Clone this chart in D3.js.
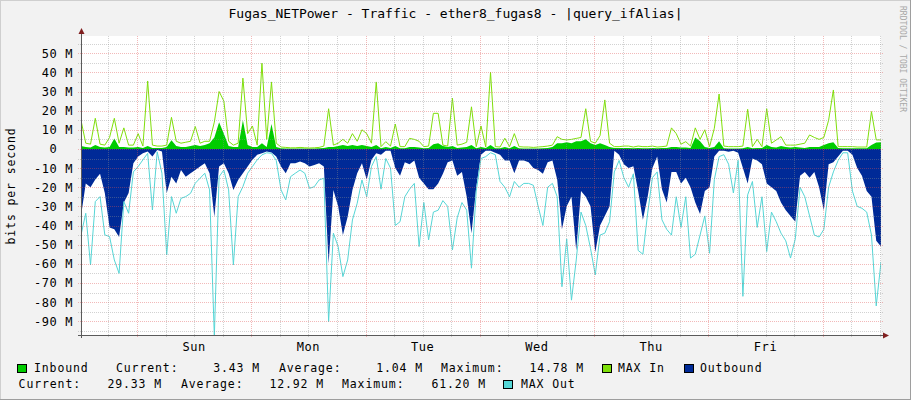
<!DOCTYPE html>
<html><head><meta charset="utf-8">
<script src="https://cdn.jsdelivr.net/npm/d3@7"></script>
<style>
body{margin:0;background:#f2f2f2;}
svg text{font-family:"DejaVu Sans Mono",monospace;fill:#000;}
.t{font-size:13px;}
.tk{font-size:12px;letter-spacing:0.58px;}
.lg{font-size:11.5px;letter-spacing:0.88px;}
.wm{font-size:8px;fill:#a8a8a8;}
</style></head><body>
<svg id="c" width="911" height="400"></svg>
<script>
// ---- data (hourly samples, values in Mbit/s) ----
const title = "Fugas_NETPower - Traffic - ether8_fugas8 - |query_ifAlias|";
const dayLabels = ["Sun","Mon","Tue","Wed","Thu","Fri"];
const yTickValues = [50,40,30,20,10,0,-10,-20,-30,-40,-50,-60,-70,-80,-90];
const seriesNames = ["Inbound","MAX In","Outbound","MAX Out"];
const seriesColors = ["#00cc00","#7fe00a","#002a97","#55d6d6"];

const inbound = [1.5,1,0.8,2,1,0.8,1,5.5,1,1,0.8,0.8,1,0.5,1.5,0.5,0.5,0.5,1,4.5,1.5,1,1,1.5,2,1.5,2,3,6,14,8,1.5,1,1,15,2,1,1,3,1,13,1,0.3,0.2,0.2,0.2,0.2,0.2,0.2,0.2,0.3,0.5,1,1,1.5,2,1.5,2,1.5,2,1.5,1,2,
0.3,1,0.5,1.5,0.3,0.3,1,1,0.8,0.3,0.5,2.5,3,1.5,1,1.5,0.5,0.8,1,2,0.3,1,0.5,2,0.3,0.3,1,0.3,1.5,0.3,0.2,0.2,0.2,0.2,0.3,0.5,1,3,3,3.5,3,4,4,5,3,2,3,2,1,0.5,0.5,0.5,0.5,0.3,0.5,0.3,0.3,0.5,0.3,0.5,0.5,1,1,
0.8,0.8,0.5,6,4,1,0.5,1,4,0.3,0.2,0.2,0.2,0.3,1,0.3,0.5,0.5,2,1,0.8,1.5,1,0.8,1,0.8,0.5,1,1,1,2,3,3.5,0.5,0.3,0.3,0.3,0.3,0.3,0.3,2,3.4,3.43];

const maxIn = [15,3,2.5,16,2.5,2,6,16,3,11,2,2,8,1.5,35.5,2,1.5,1.5,2,16.5,4,3,3.5,4,11.7,3,4,4,14,30,25,4,2,3,37,8,12,2,44.8,5,35,3,1,0.8,0.6,0.6,0.8,0.6,0.5,0.6,0.8,1.5,21,2,3,5,3,8,4,10,8,3,35,
1.2,3.8,1.5,13,1.2,1.2,5.5,5,4,1.2,1.5,18.6,18.6,2,1.5,26.5,2,2.5,3.5,22,1.2,12,1,40,1.2,1,5.6,1.2,8,1.2,1,1,0.8,1,1.2,1.5,2,6.4,5,4.7,5,5.5,6,21,4,3,7,25.6,3,1.2,1.2,1.5,1.5,1,1.5,1.2,1.2,1.5,1,1.2,1.5,11,8,
2.5,3.8,1.5,11,5,10,1.2,10.8,28.7,1.5,1.2,1.2,1.2,1.5,20.7,1.2,5,1.2,21,3,4.7,6.4,2,2,2,2.5,3,7.3,6,5,6,15,30.8,1.2,1.2,1.2,1.2,1,1,1,19.5,4.7,4.7];

const outbound = [-35,-18,-20,-16,-13,-23,-41,-42,-46,-28,-23,-7.5,-4,-2.3,-1.4,-4,-0.5,-1.4,-23,-14.5,-18,-11,-14.5,-12.7,-11,-9.2,-7.5,-12.7,-35.4,-9.2,-7.5,-12.7,-21.4,-16.2,-12.7,-9.2,-5.7,-3.1,-2.3,-1.4,-1.9,-4,-9.2,-12.7,-7.5,-7.5,-6.6,-7.5,-9.2,-8.4,-7.5,-9.2,-60,-21.4,-30,-45,-35.4,-21.4,-12.7,-7.5,-16,-5.7,-2.3,
-3,-1,-1,-10,-14,-7,-8,-6,-15,-18,-21,-21,-18,-13,-7,-6,-14,-12,-25,-44,-20,-3,-1,-1,-2,-3,-6,-6,-12.7,-6,-6,-7,-10,-11,-13,-7,-6,-16,-42,-30,-25,-53,-22,-25,-30,-54,-40,-35,-30,-1,-3,-8,-10,-9,-22,-37,-25,-10,-4,-21,-28,-12,-12,
-18,-15,-20,-28,-34,-22,-20,-4,-1,-1,-1.5,-1,-2,-10,-18,-5,-6,-8,-18,-20,-22,-28,-32,-35,-38,-14,-12,-15,-12,-20,-32,-8,-7,-4,-1,-1,-3,-10,-14,-22,-25,-48,-51];

const maxOut = [-45,-33.6,-60.6,-27.5,-24.9,-44.9,-45.8,-58,-65,-27.5,-33.6,-12,-9.2,-5.7,-2.3,-31.9,-1.5,-12.7,-55.4,-24.9,-33.6,-25.8,-24.9,-23.2,-17.9,-15.3,-12.7,-21.4,-98,-14.5,-11,-21.4,-60.6,-24.9,-19.7,-12.7,-9.2,-5.7,-3.1,-2,-2.3,-6,-21.4,-26.6,-14.5,-12.7,-11,-12.7,-20.6,-19.7,-16.2,-15.3,-90.2,-44,-51,-66.7,-58,-37.1,-28.4,-16.2,-25,-9.2,-4,
-21,-5,-10,-40,-38,-25,-21,-18,-51,-28,-47.5,-33,-32,-27,-30,-52.8,-36,-28,-32,-62.3,-22,-5,-4,-2,-3,-17,-20,-25,-17,-20,-18,-18,-19,-30,-40,-20,-18,-25,-72,-47,-79,-58,-33,-40,-52,-65.8,-45,-44,-38,-12,-6,-15,-20,-13,-53,-55,-33.6,-15,-12,-37,-42,-45,-25,
-41,-25,-57,-55,-45,-35,-54.5,-16,-4,-3,-8,-23,-6,-77,-24,-17,-41,-25,-53.6,-33,-38,-44,-48,-57,-47,-20,-25,-35,-45,-46,-42,-20,-12,-6,-2,-2,-22,-30,-31,-33,-45,-82,-59];

const legendStats = {
  inbound: ["3.43 M","1.04 M","14.78 M"],
  outbound: ["29.33 M","12.92 M","61.20 M"]
};

// ---- chart ----
const svg = d3.select("#c");
const W = 911, H = 400;
const X0 = 81, X1 = 881, YT = 36, YB = 335;
const start = Date.UTC(2024, 2, 2, 12, 15);
const HOUR = 3600e3;
const rows = inbound.map((v, i) => ({t: new Date(start + i*HOUR), inb: v, mi: maxIn[i], out: outbound[i], mo: maxOut[i]}));

const x = d3.scaleUtc().domain([new Date(start), new Date(start + 168*HOUR)]).range([X0, X1]);
const y = d3.scaleLinear().domain([-97.2, 59.0]).range([YB, YT]);

// background + frame
svg.append("rect").attr("width", W).attr("height", H).attr("fill", "#f2f2f2");
svg.append("line").attr("x1",0).attr("y1",0.5).attr("x2",W).attr("y2",0.5).attr("stroke","#cfcfcf");
svg.append("line").attr("x1",0.5).attr("y1",0).attr("x2",0.5).attr("y2",H).attr("stroke","#cfcfcf");
svg.append("line").attr("x1",0).attr("y1",H-0.5).attr("x2",W).attr("y2",H-0.5).attr("stroke","#9e9e9e");
svg.append("line").attr("x1",W-0.5).attr("y1",0).attr("x2",W-0.5).attr("y2",H).attr("stroke","#9e9e9e");

svg.append("rect").attr("x", X0).attr("y", YT).attr("width", X1-X0).attr("height", YB-YT).attr("fill", "#fff");

svg.append("clipPath").attr("id","clip").append("rect")
  .attr("x", X0).attr("y", YT).attr("width", X1-X0).attr("height", YB-YT);
const g = svg.append("g").attr("clip-path","url(#clip)");

const areaIn = d3.area().x(d=>x(d.t)).y0(y(0)).y1(d=>y(d.inb));
const areaOut = d3.area().x(d=>x(d.t)).y0(y(0)).y1(d=>y(d.out));
const lineMi = d3.line().x(d=>x(d.t)).y(d=>y(d.mi));
const lineMo = d3.line().x(d=>x(d.t)).y(d=>y(d.mo));

g.append("path").attr("d", areaIn(rows)).attr("fill", seriesColors[0]);
g.append("path").attr("d", lineMi(rows)).attr("fill","none").attr("stroke", seriesColors[1]).attr("stroke-width",1);
g.append("path").attr("d", areaOut(rows)).attr("fill", seriesColors[2]);
g.append("path").attr("d", lineMo(rows)).attr("fill","none").attr("stroke", seriesColors[3]).attr("stroke-width",1);

// grid (drawn over the data, as rrdtool does)
const grid = svg.append("g").attr("shape-rendering","crispEdges");
const gridMinor = "rgba(143,143,143,0.4)", gridMajor = "rgba(222,79,79,0.4)";
d3.range(-95, 60, 5).forEach(v => {
  const yy = Math.round(y(v)) + 0.5;
  const major = v % 10 === 0;
  grid.append("line").attr("x1", X0-3).attr("x2", X1+2).attr("y1", yy).attr("y2", yy)
    .attr("stroke", major ? gridMajor : gridMinor).attr("stroke-dasharray","1,1");
});
d3.utcHour.every(6).range(x.domain()[0], x.domain()[1]).forEach(t => {
  const xx = Math.round(x(t)) + 0.5;
  const major = t.getUTCHours() === 0;
  grid.append("line").attr("y1", YT).attr("y2", YB+3).attr("x1", xx).attr("x2", xx)
    .attr("stroke", major ? gridMajor : gridMinor).attr("stroke-dasharray","1,1");
});

// axes
svg.append("line").attr("x1", X0-3).attr("x2", X1+4).attr("y1", YB+0.5).attr("y2", YB+0.5)
  .attr("stroke","#5a5a5a").attr("shape-rendering","crispEdges");
svg.append("line").attr("x1", X0+0.5).attr("x2", X0+0.5).attr("y1", YB+3).attr("y2", YT-4)
  .attr("stroke","#5a5a5a").attr("shape-rendering","crispEdges");
svg.append("path").attr("d", `M${X1+2},${YB-2.5}L${X1+8},${YB+0.5}L${X1+2},${YB+3.5}Z`).attr("fill","#801f1f");
svg.append("path").attr("d", `M${X0-2.5},${YT-2}L${X0+0.5},${YT-8}L${X0+3.5},${YT-2}Z`).attr("fill","#801f1f");

// y tick labels
const CW = 7.8;
yTickValues.forEach(v => {
  const s = v === 0 ? "0" : `${v} M`;
  const n = v === 0 ? 3 : s.length;
  svg.append("text").attr("class","tk").attr("x", 73 - n*CW).attr("y", y(v) + 4.5).text(s);
});

// x day labels at noon
d3.utcDay.range(x.domain()[0], x.domain()[1]).forEach((d, i) => {
  const noon = new Date(+d + 12*HOUR);
  if (i < dayLabels.length)
    svg.append("text").attr("class","tk").attr("x", x(noon)).attr("y", 350.5)
      .attr("text-anchor","middle").text(dayLabels[i]);
});

// title, axis title, watermark
svg.append("text").attr("class","t").attr("x", 455.5).attr("y", 18).attr("text-anchor","middle").text(title);
svg.append("text").attr("class","lg").attr("transform","translate(15,186) rotate(-90)")
  .attr("text-anchor","middle").text("bits per second");
svg.append("text").attr("class","wm").attr("transform","translate(900,6) rotate(90)").text("RRDTOOL / TOBI OETIKER");

// legend
function sw(xp, yp, c){
  svg.append("rect").attr("x", xp+0.5).attr("y", yp+0.5).attr("width", 9).attr("height", 8)
    .attr("fill", c).attr("stroke","#000").attr("stroke-width",1);
}
function lt(xp, yp, s){ svg.append("text").attr("class","lg").attr("x", xp).attr("y", yp).text(s); }
function rt(xe, yp, s){ lt(xe - s.length*CW, yp, s); }
const L1 = 372, L2 = 388;
sw(17, 364, seriesColors[0]); lt(34, L1, seriesNames[0]);
lt(116, L1, "Current:"); rt(260, L1, legendStats.inbound[0]);
lt(279, L1, "Average:"); rt(423, L1, legendStats.inbound[1]);
lt(441, L1, "Maximum:"); rt(584, L1, legendStats.inbound[2]);
sw(602, 364, seriesColors[1]); lt(618, L1, seriesNames[1]);
sw(684, 364, seriesColors[2]); lt(700, L1, seriesNames[2]);
lt(18.6, L2, "Current:"); rt(162, L2, legendStats.outbound[0]);
lt(181, L2, "Average:"); rt(324, L2, legendStats.outbound[1]);
lt(342, L2, "Maximum:"); rt(486, L2, legendStats.outbound[2]);
sw(503, 380, seriesColors[3]); lt(521, L2, seriesNames[3]);
</script>
</body></html>
